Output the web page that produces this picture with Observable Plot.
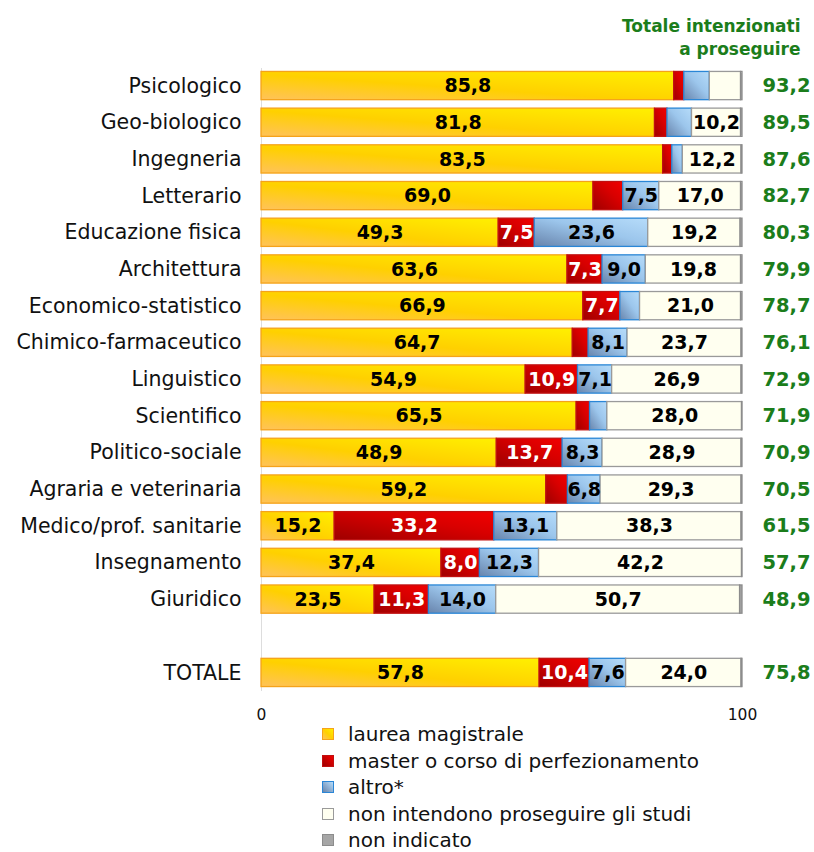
<!DOCTYPE html>
<html>
<head>
<meta charset="utf-8">
<script src="https://cdn.jsdelivr.net/npm/d3@7"></script>
<script src="https://cdn.jsdelivr.net/npm/@observablehq/plot@0.6"></script>
<style>
  body { margin: 0; background: #fff; font-family: "DejaVu Sans", sans-serif; }
  #chart svg { display: block; }
  #legend { position: relative; margin-left: 322px; margin-top: -11px; font-size: 20px; color: #111; }
  #legend .item { height: 26.5px; display: flex; align-items: center; white-space: nowrap; }
  #legend .item span.t { line-height: 20px; }
  #legend .sw { width: 10px; height: 10px; margin-right: 14px; box-sizing: content-box; flex: none; }
</style>
</head>
<body>
<div id="chart"></div>
<div id="legend"></div>
<script>
const categories = ["Psicologico", "Geo-biologico", "Ingegneria", "Letterario", "Educazione fisica",
  "Architettura", "Economico-statistico", "Chimico-farmaceutico", "Linguistico", "Scientifico",
  "Politico-sociale", "Agraria e veterinaria", "Medico/prof. sanitarie", "Insegnamento", "Giuridico", "TOTALE"];
const laurea      = [85.8, 81.8, 83.5, 69.0, 49.3, 63.6, 66.9, 64.7, 54.9, 65.5, 48.9, 59.2, 15.2, 37.4, 23.5, 57.8];
const master      = [ 2.1,  2.6,  1.9,  6.2,  7.5,  7.3,  7.7,  3.3, 10.9,  2.8, 13.7,  4.5, 33.2,  8.0, 11.3, 10.4];
const altro       = [ 5.3,  5.1,  2.2,  7.5, 23.6,  9.0,  4.1,  8.1,  7.1,  3.6,  8.3,  6.8, 13.1, 12.3, 14.0,  7.6];
const nonIntend   = [ 6.5, 10.2, 12.2, 17.0, 19.2, 19.8, 21.0, 23.7, 26.9, 28.0, 28.9, 29.3, 38.3, 42.2, 50.7, 24.0];
const nonIndicato = [ 0.3,  0.3,  0.2,  0.3,  0.4,  0.3,  0.3,  0.2,  0.2,  0.1,  0.2,  0.2,  0.2,  0.1,  0.5,  0.2];
const totali      = [93.2, 89.5, 87.6, 82.7, 80.3, 79.9, 78.7, 76.1, 72.9, 71.9, 70.9, 70.5, 61.5, 57.7, 48.9, 75.8];
const seriesNames = ["laurea magistrale", "master o corso di perfezionamento", "altro*",
  "non intendono proseguire gli studi", "non indicato"];
const xTicks = [0, 100];
const titleRight = "Totale intenzionati\na proseguire";

const GAP = "\u00A0";
const yDomain = [...categories.slice(0, 15), GAP, categories[15]];
const seriesData = [laurea, master, altro, nonIntend, nonIndicato];
const rows = categories.map((c, i) => ({cat: c, vals: seriesData.map(s => s[i]), tot: totali[i]}));
const cum = (d, k) => d.vals.slice(0, k).reduce((a, b) => a + b, 0);
const fmt = v => v.toFixed(1).replace(".", ",");

const fills = ["url(#gY)", "url(#gR)", "url(#gB)", "#FFFFF0", "#A6A6A6"];
const strokes = ["#F5A31A", "#C01010", "#2A86D6", "#9A9A9A", "#8C8C8C"];
const textColors = ["#000", "#fff", "#000", "#000", "#000"];
const green = "#1B7D1B";

const marks = [
  Plot.ruleX(xTicks.slice(0, 1), {stroke: "#ddd", strokeWidth: 1, insetTop: 5, insetBottom: 4})
];
seriesData.forEach((s, k) => {
  marks.push(Plot.barX(rows, {
    y: "cat", x1: d => cum(d, k), x2: d => cum(d, k + 1),
    fill: fills[k], stroke: strokes[k], strokeWidth: 1.3, inset: 0
  }));
});
seriesData.forEach((s, k) => {
  if (k === 4) return;
  marks.push(Plot.text(rows.filter(d => d.vals[k] >= 6.75), {
    y: "cat", x: d => cum(d, k) + d.vals[k] / 2, text: d => fmt(d.vals[k]),
    fill: textColors[k], fontWeight: "bold", fontSize: 19
  }));
});
marks.push(Plot.text(rows, {
  y: "cat", text: d => fmt(d.tot), frameAnchor: "right", textAnchor: "end", dx: 68,
  fill: green, fontWeight: "bold", fontSize: 19.5
}));
marks.push(Plot.text([titleRight], {
  frameAnchor: "top-right", textAnchor: "end", dx: 58, dy: -48, lineHeight: 1.35,
  fill: green, fontWeight: "bold", fontSize: 17, text: d => d
}));
marks.push(Plot.axisY({tickSize: 0, tickPadding: 20, fontSize: 20.5, fill: "#111", label: null}));
marks.push(Plot.axisX({ticks: xTicks, tickSize: 0, tickPadding: 13, fontSize: 15.5, fill: "#111", label: null}));

const chart = Plot.plot({
  width: 814,
  height: 732,
  marginLeft: 261,
  marginRight: 72,
  marginTop: 63,
  marginBottom: 37,
  style: {fontFamily: "'DejaVu Sans', sans-serif", background: "transparent", color: "#111"},
  x: {domain: [0, 100]},
  y: {domain: yDomain, padding: 0.23, align: 0.5, round: false},
  marks
});

const defs = document.createElementNS("http://www.w3.org/2000/svg", "defs");
defs.innerHTML = `
  <linearGradient id="gY" x1="0" y1="1" x2="1" y2="0">
    <stop offset="0" stop-color="#FFC25A"/>
    <stop offset="0.45" stop-color="#FFD000"/>
    <stop offset="1" stop-color="#FFF000"/>
  </linearGradient>
  <linearGradient id="gR" x1="0" y1="1" x2="1" y2="0">
    <stop offset="0" stop-color="#9E0000"/>
    <stop offset="0.6" stop-color="#D80000"/>
    <stop offset="1" stop-color="#F20000"/>
  </linearGradient>
  <linearGradient id="gB" x1="0" y1="1" x2="1" y2="0">
    <stop offset="0" stop-color="#6884AC"/>
    <stop offset="0.55" stop-color="#9CC6EC"/>
    <stop offset="1" stop-color="#B6DCFA"/>
  </linearGradient>`;
chart.prepend(defs);
document.getElementById("chart").appendChild(chart);

const legendFill = ["linear-gradient(45deg,#FFC25A,#FFD000,#FFF000)",
  "linear-gradient(45deg,#9E0000,#F20000)",
  "linear-gradient(45deg,#6884AC,#B6DCFA)", "#FFFFF0", "#A6A6A6"];
const legend = document.getElementById("legend");
seriesNames.forEach((name, k) => {
  const item = document.createElement("div");
  item.className = "item";
  const sw = document.createElement("span");
  sw.className = "sw";
  sw.style.background = legendFill[k];
  sw.style.border = `1px solid ${strokes[k]}`;
  const t = document.createElement("span");
  t.className = "t";
  t.textContent = name;
  item.append(sw, t);
  legend.appendChild(item);
});
</script>
</body>
</html>
